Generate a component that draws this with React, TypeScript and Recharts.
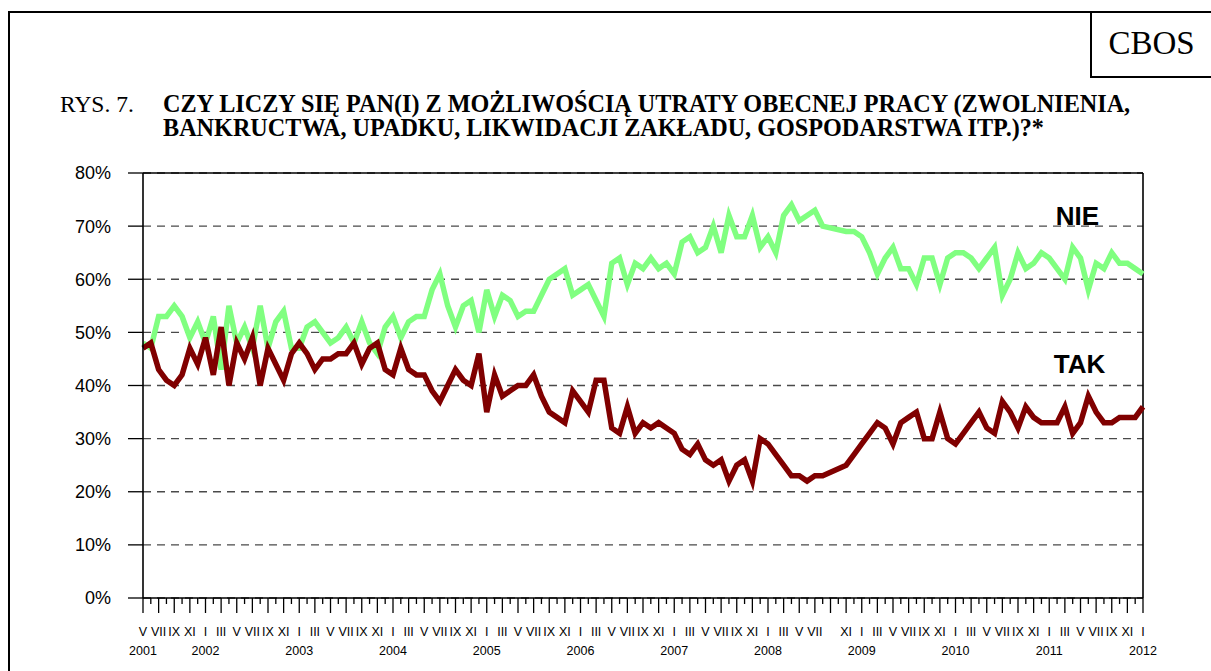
import React from "react";
import {
  LineChart,
  Line,
  XAxis,
  YAxis,
  CartesianGrid,
  ReferenceLine,
} from "recharts";

// ─── data (monthly survey, V 2001 – I 2012) ───────────────────────────────
const YEARS = [2001, 2002, 2003, 2004, 2005, 2006, 2007, 2008, 2009, 2010, 2011, 2012];
const FIRST_MONTH = 5; // May 2001
const LAST_MONTH = 1; // Jan 2012

const ROMAN = ["I", "II", "III", "IV", "V", "VI", "VII", "VIII", "IX", "X", "XI", "XII"];
// months that have no label under the axis
const UNLABELLED = ["2008-09"];

// NIE – not afraid of losing job (%)
const NIE: (number | null)[] = [
  48, 47, 53, 53, 55, 53, 49, 52, // 2001
  48, 53, 43, 55, 48, 51, 47, 55, 47, 52, 54, 47, // 2002
  47, 51, 52, 50, 48, 49, 51, 48, 52, 48, 46, 51, // 2003
  53, 49, 52, 53, 53, 58, 61, 55, 51, 55, 56, 50, // 2004
  58, 53, 57, 56, 53, 54, 54, 57, 60, 61, 62, 57, // 2005
  58, 59, 56, 53, 63, 64, 59, 63, 62, 64, 62, 63, // 2006
  61, 67, 68, 65, 66, 70, 65, 72, 68, 68, 72, 66, // 2007
  68, 65, 72, 74, 71, 72, 73, 70, null, null, 69, 69, // 2008
  68, 65, 61, 64, 66, 62, 62, 59, 64, 64, 59, 64, // 2009
  65, 65, 64, 62, 64, 66, 57, 60, 65, 62, 63, 65, // 2010
  64, 62, 60, 66, 64, 58, 63, 62, 65, 63, 63, 62, // 2011
  61, // 2012
];

// TAK – afraid of losing job (%)
const TAK: (number | null)[] = [
  47, 48, 43, 41, 40, 42, 47, 44, // 2001
  49, 42, 51, 40, 48, 45, 49, 40, 47, 44, 41, 46, // 2002
  48, 46, 43, 45, 45, 46, 46, 48, 44, 47, 48, 43, // 2003
  42, 47, 43, 42, 42, 39, 37, 40, 43, 41, 40, 46, // 2004
  35, 42, 38, 39, 40, 40, 42, 38, 35, 34, 33, 39, // 2005
  37, 35, 41, 41, 32, 31, 36, 31, 33, 32, 33, 32, // 2006
  31, 28, 27, 29, 26, 25, 26, 22, 25, 26, 22, 30, // 2007
  29, 27, 25, 23, 23, 22, 23, 23, null, null, 25, 27, // 2008
  29, 31, 33, 32, 29, 33, 34, 35, 30, 30, 35, 30, // 2009
  29, 31, 33, 35, 32, 31, 37, 35, 32, 36, 34, 33, // 2010
  33, 33, 36, 31, 33, 38, 35, 33, 33, 34, 34, 34, // 2011
  36, // 2012
];

const Y_TICKS = [0, 10, 20, 30, 40, 50, 60, 70, 80];

// category keys "YYYY-MM"
const MONTH_KEYS: string[] = [];
YEARS.forEach((yr, yi) => {
  const from = yi === 0 ? FIRST_MONTH : 1;
  const to = yi === YEARS.length - 1 ? LAST_MONTH : 12;
  for (let m = from; m <= to; m++) {
    MONTH_KEYS.push(`${yr}-${String(m).padStart(2, "0")}`);
  }
});

const data = MONTH_KEYS.map((key, i) => ({
  key,
  nie: NIE[i] ?? null,
  tak: TAK[i] ?? null,
}));

const SANS = "'Liberation Sans', Arial, sans-serif";
const SERIF = "'Liberation Serif', 'Times New Roman', serif";

function MonthTick(props: any) {
  const { x, y, payload, index } = props;
  const key = String(payload.value);
  const [yr, mo] = key.split("-").map(Number);
  const odd = mo % 2 === 1;
  const roman = odd && !UNLABELLED.includes(key) ? ROMAN[mo - 1] : "";
  const showYear = mo === 1 || index === 0;
  return (
    <g>
      <line x1={x} x2={x} y1={y} y2={y + (odd ? 15 : 6)} stroke="#000" strokeWidth={1.3} />
      {roman && (
        <text x={x} y={y + 38} textAnchor="middle" fontFamily={SANS} fontSize={12.5} fill="#000">
          {roman}
        </text>
      )}
      {showYear && (
        <text x={x} y={y + 57} textAnchor="middle" fontFamily={SANS} fontSize={12.5} fill="#000">
          {yr}
        </text>
      )}
    </g>
  );
}

export default function App() {
  return (
    <div
      style={{
        position: "fixed",
        left: 0,
        top: 0,
        width: 1211,
        height: 671,
        background: "#fff",
        overflow: "hidden",
      }}
    >
      {/* page frame */}
      <div
        style={{
          position: "absolute",
          left: 8,
          top: 11,
          width: 1300,
          height: 800,
          borderLeft: "2px solid #000",
          borderTop: "2px solid #000",
        }}
      />
      {/* CBOS box */}
      <div
        style={{
          position: "absolute",
          left: 1090,
          top: 11,
          width: 200,
          height: 65,
          borderLeft: "2px solid #000",
          borderBottom: "2px solid #000",
        }}
      />
      <div
        style={{
          position: "absolute",
          left: 1092,
          top: 24,
          width: 119,
          textAlign: "center",
          fontFamily: SERIF,
          fontSize: 33,
          lineHeight: "38px",
          color: "#000",
        }}
      >
        CBOS
      </div>

      {/* title */}
      <div
        style={{
          position: "absolute",
          left: 60,
          top: 92,
          fontFamily: SERIF,
          fontSize: 23.5,
          lineHeight: "24px",
          color: "#000",
        }}
      >
        RYS. 7.
      </div>
      <div
        style={{
          position: "absolute",
          left: 163,
          top: 92,
          width: 1045,
          fontFamily: SERIF,
          fontWeight: "bold",
          fontSize: 24.2,
          lineHeight: "24px",
          color: "#000",
          whiteSpace: "nowrap",
        }}
      >
        CZY LICZY SIĘ PAN(I) Z MOŻLIWOŚCIĄ UTRATY OBECNEJ PRACY (ZWOLNIENIA,
        <br />
        BANKRUCTWA, UPADKU, LIKWIDACJI ZAKŁADU, GOSPODARSTWA ITP.)?*
      </div>

      <div style={{ position: "absolute", left: 0, top: 0 }}>
        <LineChart
          width={1211}
          height={671}
          data={data}
          margin={{ top: 173, right: 68, bottom: 13, left: 83 }}
        >
          <CartesianGrid
            vertical={false}
            stroke="#4a4a4a"
            strokeWidth={1.3}
            strokeDasharray="8 6"
          />
          <XAxis
            dataKey="key"
            interval={0}
            height={60}
            tickSize={0}
            tickMargin={0}
            axisLine={{ stroke: "#000", strokeWidth: 1.6 }}
            tickLine={false}
            tick={<MonthTick />}
          />
          <YAxis
            domain={[0, 80]}
            ticks={Y_TICKS}
            width={60}
            tickSize={15}
            tickMargin={17}
            axisLine={{ stroke: "#000", strokeWidth: 1.6 }}
            tickLine={{ stroke: "#000", strokeWidth: 1.3 }}
            tickFormatter={(v: number) => `${v}%`}
            tick={{ fontFamily: SANS, fontSize: 18, fill: "#000" }}
          />
          <ReferenceLine y={80} stroke="#000" strokeWidth={1.6} />
          <ReferenceLine x={MONTH_KEYS[MONTH_KEYS.length - 1]} stroke="#000" strokeWidth={1.6} />
          <Line
            type="linear"
            dataKey="nie"
            stroke="#80FF80"
            strokeWidth={5.5}
            dot={false}
            connectNulls
            isAnimationActive={false}
          />
          <Line
            type="linear"
            dataKey="tak"
            stroke="#800000"
            strokeWidth={5.5}
            dot={false}
            connectNulls
            isAnimationActive={false}
          />
        </LineChart>
      </div>

      {/* series labels */}
      <div
        style={{
          position: "absolute",
          left: 1020,
          top: 201,
          width: 115,
          textAlign: "center",
          fontFamily: SANS,
          fontWeight: "bold",
          fontSize: 26,
          lineHeight: "30px",
        }}
      >
        NIE
      </div>
      <div
        style={{
          position: "absolute",
          left: 1022,
          top: 349,
          width: 115,
          textAlign: "center",
          fontFamily: SANS,
          fontWeight: "bold",
          fontSize: 26,
          lineHeight: "30px",
        }}
      >
        TAK
      </div>
    </div>
  );
}
